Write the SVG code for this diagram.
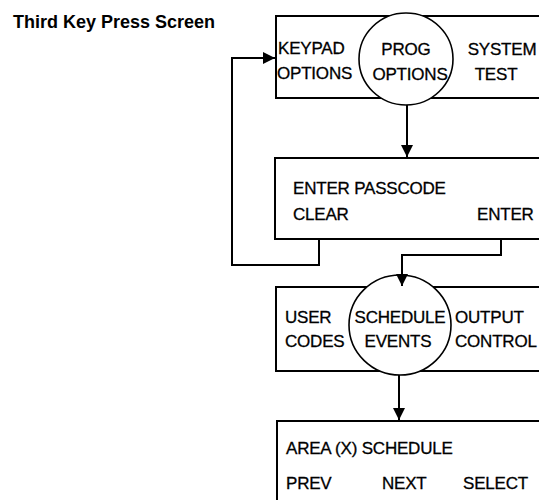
<svg xmlns="http://www.w3.org/2000/svg" width="539" height="500" viewBox="0 0 539 500">
<defs>
<style>
.box{fill:#fff;stroke:#000;stroke-width:2}
.circ{fill:#fff;stroke:#000;stroke-width:1.6}
.t{font-family:"Liberation Sans",Arial,Helvetica,sans-serif;font-size:17px;fill:#000;stroke:#000;stroke-width:0.3;letter-spacing:-0.2px}
.title{font-family:"Liberation Sans",Arial,Helvetica,sans-serif;font-size:18px;font-weight:bold;fill:#000}
.ln{fill:none;stroke:#000;stroke-width:2}
</style>
<marker id="ah" viewBox="0 0 10 10" refX="10" refY="5" markerWidth="6" markerHeight="6" markerUnits="strokeWidth" orient="auto">
<path d="M0,0 L10,5 L0,10 z" fill="#000"/>
</marker>
</defs>
<rect width="539" height="500" fill="#fff"/>
<text class="title" x="13" y="28">Third Key Press Screen</text>

<g id="screen1">
<rect class="box" x="276" y="16" width="280" height="82"/>
<ellipse class="circ" cx="406" cy="59" rx="47" ry="46"/>
<text class="t" x="278" y="54">KEYPAD</text>
<text class="t" x="277" y="79">OPTIONS</text>
<text class="t" x="406" y="55" text-anchor="middle">PROG</text>
<text class="t" x="410" y="80" text-anchor="middle">OPTIONS</text>
<text class="t" x="502" y="55" text-anchor="middle">SYSTEM</text>
<text class="t" x="496" y="80" text-anchor="middle">TEST</text>
</g>

<g id="screen2">
<rect class="box" x="275" y="158" width="280" height="81"/>
<text class="t" x="293" y="194">ENTER PASSCODE</text>
<text class="t" x="293" y="220">CLEAR</text>
<text class="t" x="477" y="220">ENTER</text>
</g>

<g id="screen3">
<rect class="box" x="276" y="287" width="280" height="84"/>
<ellipse class="circ" cx="400" cy="325" rx="51" ry="50"/>
<text class="t" x="285" y="323">USER</text>
<text class="t" x="285" y="347">CODES</text>
<text class="t" x="400" y="323" text-anchor="middle">SCHEDULE</text>
<text class="t" x="398" y="347" text-anchor="middle">EVENTS</text>
<text class="t" x="455" y="323">OUTPUT</text>
<text class="t" x="455" y="347">CONTROL</text>
</g>

<g id="screen4">
<rect class="box" x="277" y="421" width="280" height="100"/>
<text class="t" x="286" y="454">AREA (X) SCHEDULE</text>
<text class="t" x="286" y="489">PREV</text>
<text class="t" x="382" y="489">NEXT</text>
<text class="t" x="463" y="489">SELECT</text>
</g>

<g id="connectors">
<path class="ln" d="M407,105 V157" marker-end="url(#ah)"/>
<path class="ln" d="M319,239 V265 H232 V58 H275" marker-end="url(#ah)"/>
<path class="ln" d="M501,239 V255 H402 V286" marker-end="url(#ah)"/>
<path class="ln" d="M399,375 V420" marker-end="url(#ah)"/>
</g>
</svg>
